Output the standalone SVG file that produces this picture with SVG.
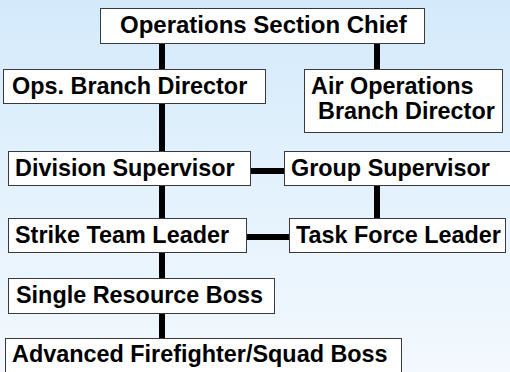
<svg xmlns="http://www.w3.org/2000/svg" width="510" height="372" viewBox="0 0 510 372">
<defs>
<linearGradient id="bg" x1="0" y1="0" x2="0" y2="1">
<stop offset="0" stop-color="#d4eafb"/>
<stop offset="1" stop-color="#f3f9fe"/>
</linearGradient>
<style>
.box{fill:#ffffff;stroke:#3a3a3a;stroke-width:1}
.t{font-family:"Liberation Sans",Arial,sans-serif;font-weight:bold;font-size:23.4px;fill:#000}
.c{stroke:#000;stroke-width:6;fill:none}
</style>
</defs>
<rect x="0" y="0" width="510" height="372" fill="url(#bg)"/>
<g id="connectors">
<line class="c" x1="162" y1="43" x2="162" y2="69"/>
<line class="c" x1="377" y1="43" x2="377" y2="69"/>
<line class="c" x1="162" y1="103" x2="162" y2="151"/>
<line class="c" x1="250" y1="171" x2="284" y2="171"/>
<line class="c" x1="162" y1="186" x2="162" y2="218"/>
<line class="c" x1="377" y1="186" x2="377" y2="218"/>
<line class="c" x1="246" y1="237" x2="289" y2="237"/>
<line class="c" x1="162" y1="252" x2="162" y2="278"/>
<line class="c" x1="162" y1="313" x2="162" y2="338"/>
</g>
<g id="osc"><rect class="box" x="100.5" y="8.5" width="324" height="35"/><text class="t" x="120" y="33" style="font-size:24px">Operations Section Chief</text></g>
<g id="obd"><rect class="box" x="3.5" y="69.5" width="262" height="34"/><text class="t" x="12" y="94">Ops. Branch Director</text></g>
<g id="aobd"><rect class="box" x="304.5" y="69.5" width="198" height="63"/><text class="t" x="311" y="94">Air Operations</text><text class="t" x="318" y="118.5">Branch Director</text></g>
<g id="ds"><rect class="box" x="8.5" y="151.5" width="242" height="34"/><text class="t" x="15" y="176">Division Supervisor</text></g>
<g id="gs"><rect class="box" x="284.5" y="151.5" width="230" height="34"/><text class="t" x="291" y="176">Group Supervisor</text></g>
<g id="stl"><rect class="box" x="8.5" y="218.5" width="238" height="34"/><text class="t" x="15" y="243">Strike Team Leader</text></g>
<g id="tfl"><rect class="box" x="289.5" y="218.5" width="216" height="34"/><text class="t" x="296" y="243">Task Force Leader</text></g>
<g id="srb"><rect class="box" x="8.5" y="278.5" width="266" height="35"/><text class="t" x="16" y="303">Single Resource Boss</text></g>
<g id="afsb"><rect class="box" x="5.5" y="338.5" width="396" height="40"/><text class="t" x="12" y="362">Advanced Firefighter/Squad Boss</text></g>
</svg>
